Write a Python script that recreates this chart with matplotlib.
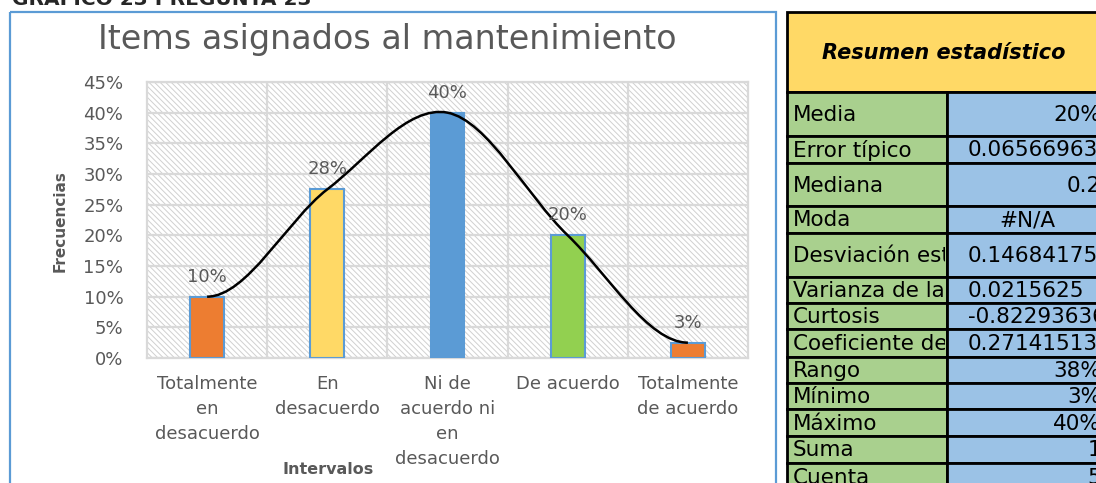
import matplotlib
matplotlib.use("Agg")
import matplotlib.pyplot as plt
import numpy as np
from matplotlib.path import Path
from matplotlib.patches import PathPatch, Rectangle
from matplotlib.ticker import PercentFormatter
from matplotlib.transforms import Bbox, TransformedBbox

# datos del grafico
categorias = ["Totalmente\nen\ndesacuerdo", "En\ndesacuerdo",
              "Ni de\nacuerdo ni\nen\ndesacuerdo", "De acuerdo",
              "Totalmente\nde acuerdo"]
frecuencias = [0.10, 0.275, 0.40, 0.20, 0.025]
etiquetas = ["10%", "28%", "40%", "20%", "3%"]
colores = ["#ED7D31", "#FFD966", "#5B9BD5", "#92D050", "#ED7D31"]

# tabla de resumen estadistico
resumen_nombres = ["Media", "Error típico", "Mediana", "Moda",
                   "Desviación estándar", "Varianza de la muestra", "Curtosis",
                   "Coeficiente de asimetría", "Rango", "Mínimo", "Máximo",
                   "Suma", "Cuenta"]
resumen_valores = ["20%", "0.06566963", "0.2", "#N/A", "0.14684175",
                   "0.0215625", "-0.82293636", "0.27141513", "38%", "3%",
                   "40%", "1", "5"]

plt.rcParams["font.family"] = ["DejaVu Sans"]
plt.rcParams["hatch.linewidth"] = 0.7
gris = "#595959"
W, H = 1096, 483

fig = plt.figure(figsize=(W / 100, H / 100), dpi=100)


def caja(l, t, r, b):
    return [l / W, 1 - b / H, (r - l) / W, (b - t) / H]


ax = fig.add_axes(caja(147, 82, 748, 358))
x = np.arange(len(categorias))
ax.set_xlim(-0.5, len(categorias) - 0.5)
ax.set_ylim(0, 0.45)

# fondo rayado del area de trazado
fondo = Rectangle((0, 0), 1, 1, transform=ax.transAxes, facecolor="white",
                  edgecolor="#D0D0D0", hatch="\\" * 6, lw=0, zorder=0)
ax.add_patch(fondo)

ax.set_yticks(np.arange(0, 0.451, 0.05))
ax.yaxis.set_major_formatter(PercentFormatter(1.0, decimals=0))
ax.set_xticks(x)
ax.set_xticklabels(categorias)
ax.set_xticks(x[:-1] + 0.5, minor=True)
ax.grid(True, axis="y", color="#D9D9D9", lw=1.6, zorder=1)
ax.grid(True, axis="x", which="minor", color="#D9D9D9", lw=1.6, zorder=1)
ax.set_axisbelow(True)
ax.tick_params(axis="both", which="both", length=0, colors=gris, labelsize=13)
ax.tick_params(axis="y", pad=17)
ax.tick_params(axis="x", pad=12)
for lbl in ax.get_xticklabels():
    lbl.set_linespacing(1.5)
for s in ax.spines.values():
    s.set_color("#D9D9D9")
    s.set_linewidth(1.6)

ax.bar(x, frecuencias, width=0.28, color=colores, edgecolor="#5B9BD5",
       lw=1.5, zorder=3)

for xi, v, t in zip(x, frecuencias, etiquetas):
    ax.annotate(t, (xi, v), xytext=(0, 8), textcoords="offset points",
                ha="center", va="bottom", color=gris, fontsize=13, zorder=5)

# linea suavizada entre los valores
pts = np.column_stack([x, frecuencias]).astype(float)
ext = np.vstack([[2 * pts[0, 0] - pts[1, 0], pts[1, 1]], pts,
                 [2 * pts[-1, 0] - pts[-2, 0], pts[-2, 1]]])
verts = [pts[0]]
codes = [Path.MOVETO]
for i in range(len(pts) - 1):
    p0, p1, p2, p3 = ext[i], ext[i + 1], ext[i + 2], ext[i + 3]
    verts += [p1 + (p2 - p0) / 6, p2 - (p3 - p1) / 6, p2]
    codes += [Path.CURVE4] * 3
ax.add_patch(PathPatch(Path(verts, codes), fill=False, edgecolor="black",
                       lw=1.8, zorder=4))

# capa en pixeles para marco, textos y tabla
ov = fig.add_axes([0, 0, 1, 1], facecolor="none")
ov.set_xlim(0, W)
ov.set_ylim(H, 0)
ov.axis("off")

ov.add_patch(Rectangle((10, 12), 766, 500, fill=False, edgecolor="#5B9BD5",
                       lw=1.6))
ov.text(12, 5, "GRAFICO 23 PREGUNTA 23", fontsize=14.5, fontweight="bold",
        color="#262626", va="baseline", ha="left")
ov.text(387, 40, "Items asignados al mantenimiento", fontsize=24,
        color=gris, ha="center", va="center")
ov.text(60, 221, "Frecuencias", rotation=90, fontsize=11, fontweight="bold",
        color=gris, ha="center", va="center")
ov.text(328, 470, "Intervalos", fontsize=11.5, fontweight="bold", color=gris,
        ha="center", va="center")

# tabla
izq, sep, der = 787, 947, 1110
ov.add_patch(Rectangle((izq, 12), der - izq, 80, facecolor="#FFD966",
                       edgecolor="black", lw=2))
ov.text(944, 53, "Resumen estadístico", fontsize=15, fontweight="bold",
        fontstyle="italic", ha="center", va="center", color="black")

filas = [92, 136, 163, 206, 233, 277, 303, 329, 357, 383, 409, 436, 463, 490]
for i, (nom, val) in enumerate(zip(resumen_nombres, resumen_valores)):
    t0, t1 = filas[i], filas[i + 1]
    ov.add_patch(Rectangle((izq, t0), sep - izq, t1 - t0, facecolor="#A9D08E",
                           edgecolor="black", lw=2))
    ov.add_patch(Rectangle((sep, t0), der - sep, t1 - t0, facecolor="#9BC2E6",
                           edgecolor="black", lw=2))
    yc = (t0 + t1) / 2 + 1
    tn = ov.text(793, yc, nom, fontsize=15.5, ha="left", va="center",
                 color="black")
    tn.set_clip_on(True)
    tn.set_clip_box(TransformedBbox(Bbox([[izq, t0], [sep - 2, t1]]),
                                    ov.transData))
    if val == "#N/A":
        ov.text(1027, yc, val, fontsize=15.5, ha="center", va="center")
    elif len(val) > 5:
        ov.text(968, yc, val, fontsize=15.5, ha="left", va="center")
    else:
        ov.text(1101, yc, val, fontsize=15.5, ha="right", va="center")

fig.savefig("out.png", dpi=100)
